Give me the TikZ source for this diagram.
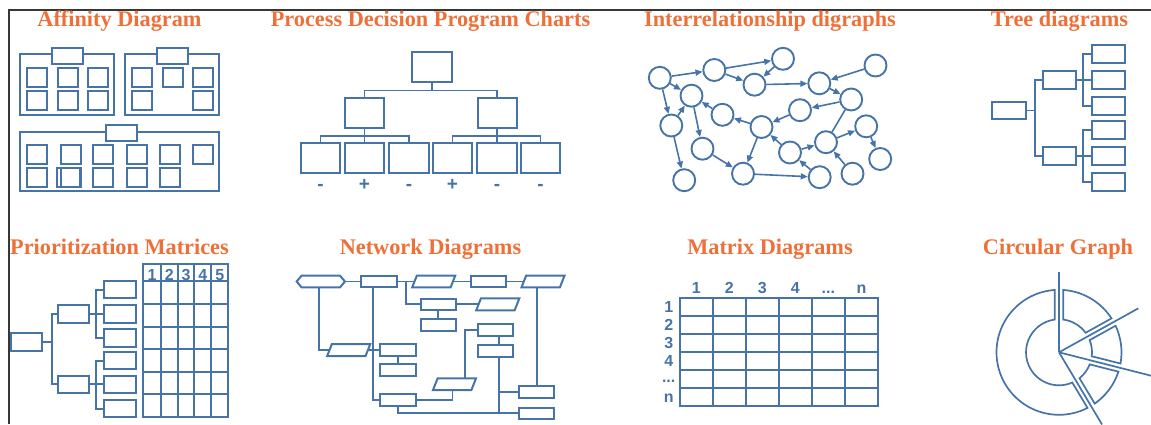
\documentclass[tikz,border=0pt]{standalone}
\usepackage{fontspec}
\setmainfont{Liberation Serif}
\newfontfamily\lsans{Liberation Sans}
\usetikzlibrary{arrows.meta,shapes.geometric,shapes.symbols,calc}
\definecolor{bl}{RGB}{70,116,168}
\definecolor{ttl}{RGB}{238,112,56}
\definecolor{frm}{RGB}{55,55,55}
\newcommand\sq[2]{\draw[ln] (#1,#2) rectangle ++(20,19);}
\newcommand\para[2]{\node[rectangle,minimum width=38pt,minimum height=11.5pt,inner sep=0pt] (#1) at (#2) {};
  \draw[ln] ([xshift=-2.35pt]#1.south west) -- ([xshift=2.35pt]#1.north west) -- ([xshift=2.35pt]#1.north east) -- ([xshift=-2.35pt]#1.south east) -- cycle;}
\begin{document}
\begin{tikzpicture}[x=1pt,y=-1pt,
  ln/.style={draw=bl,line width=2pt},
  thn/.style={draw=bl,line width=1.7pt},
  bx/.style={rectangle,draw=bl,line width=2pt,inner sep=0pt,fill=white},
  nbox/.style={bx,minimum width=35.5pt,minimum height=11.5pt},
  circ/.style={circle,draw=bl,line width=1.9pt,minimum size=22pt,inner sep=0pt},
  arr/.style={draw=bl,line width=1.6pt,-{Triangle[length=7pt,width=6pt]}},
  title/.style={text=ttl,font=\fontsize{22.3}{26}\selectfont\bfseries,anchor=base,inner sep=0pt},
  lab/.style={text=bl,font=\lsans\fontsize{16}{18}\selectfont\bfseries,anchor=base,inner sep=0pt},
  pm/.style={text=bl,font=\lsans\fontsize{19}{20}\selectfont\bfseries,anchor=base,inner sep=0pt},
]
\useasboundingbox (0,0) rectangle (1151,424);
\draw[frm,line width=1.5pt] (9,424) -- (9,10) -- (1151,10);

% titles
\node[title] (t1) at (119.5,26.5) {Affinity Diagram};
\node[title] (t2) at (430.5,26.5) {Process Decision Program Charts};
\node[title] (t3) at (770,26.5) {Interrelationship digraphs};
\node[title] (t4) at (1059.5,26.5) {Tree diagrams};
\node[title] (t5) at (119.5,254) {Prioritization Matrices};
\node[title] (t6) at (430.5,254) {Network Diagrams};
\node[title] (t7) at (770,254) {Matrix Diagrams};
\node[title] (t8) at (1058,254) {Circular Graph};

% ---------- Affinity diagram
\draw[ln] (20,54) rectangle (114,115);
\node[bx,minimum width=31pt,minimum height=16pt] (ah1) at (67.5,56) {};
\sq{27}{68}\sq{57.5}{68}\sq{88}{68}
\sq{27}{91}\sq{57.5}{91}\sq{88}{91}
\draw[ln] (125,54) rectangle (219,115);
\node[bx,minimum width=31pt,minimum height=16pt] (ah2) at (172.5,56) {};
\sq{132}{68}\sq{163}{68}\sq{193}{68}
\sq{132}{91}\sq{193}{91}
\draw[ln] (20,132) rectangle (219,191);
\node[bx,minimum width=31pt,minimum height=16pt] (ah3) at (121.5,133) {};
\sq{27}{145}\sq{61}{145}\sq{93}{145}\sq{127}{145}\sq{160}{145}\sq{193}{145}
\draw[ln] (57,168) rectangle (80,187);
\sq{27}{168}\sq{61}{168}\sq{93}{168}\sq{127}{168}\sq{160}{168}

% ---------- PDPC
\node[bx,minimum width=40pt,minimum height=30pt] (pt) at (432,67) {};
\node[bx,minimum width=39pt,minimum height=30pt] (pmL) at (364.5,113) {};
\node[bx,minimum width=39pt,minimum height=30pt] (pmR) at (497,113) {};
\foreach \i/\x in {1/320.5,2/364.5,3/409,4/452.5,5/497,6/540.5}{
  \node[bx,minimum width=39.5pt,minimum height=30pt] (pb\i) at (\x,158) {};
}
\draw[thn] (pt.south) -- ++(0,7.5) coordinate (pj) -| (pmL.north);
\draw[thn] (pj) -| (pmR.north);
\draw[thn] (pmL.south) -- ++(0,6.7) coordinate (pjL) -| (pb1.north);
\draw[thn] (pjL) -| (pb3.north);
\draw[thn] (pjL) -- (pb2.north);
\draw[thn] (pmR.south) -- ++(0,6.7) coordinate (pjR) -| (pb4.north);
\draw[thn] (pjR) -| (pb6.north);
\draw[thn] (pjR) -- (pb5.north);
\node[pm] (s1) at (320.5,190) {-};
\node[pm] (s2) at (364.5,190) {+};
\node[pm] (s3) at (409,190) {-};
\node[pm] (s4) at (452.5,190) {+};
\node[pm] (s5) at (497,190) {-};
\node[pm] (s6) at (540.5,190) {-};

% ---------- Interrelationship digraph
\foreach \i/\x/\y in {1/659.8/77.8,2/714.3/70,3/783/58.8,4/754.5/84.7,5/819.3/83.3,6/875.5/65.5,
  7/691.5/95.7,8/851.2/99.5,9/800/110.2,10/722.5/114.8,11/671.3/125.5,12/761.5/127,
  13/866.2/126.3,14/826/142.2,15/702.5/148.7,16/790/152.5,17/880.2/159,18/743/173.7,
  19/819.7/177.2,20/852.5/173.7,21/684.2/180.2}{
  \node[circ] (c\i) at (\x,\y) {};
}
\foreach \a/\b in {1/2,1/7,1/11,11/7,11/21,7/15,10/7,12/10,12/18,15/18,2/3,2/4,3/4,4/5,6/5,
  5/8,8/9,9/12,16/12,16/14,14/13,13/17,19/16,20/14,18/19}{
  \draw[arr] (c\a) -- (c\b);
}
\draw[draw=bl,line width=1.6pt] (c8) -- (c14);

% ---------- Tree diagrams
\node[bx,minimum width=34pt,minimum height=17.6pt] (tr) at (1008.7,110.5) {};
\node[bx,minimum width=33pt,minimum height=18pt] (tm1) at (1059.2,80.3) {};
\node[bx,minimum width=33pt,minimum height=18pt] (tm2) at (1059.2,155.7) {};
\foreach \i/\y in {1/54.3,2/80.3,3/106.3,4/130,5/155.7,6/181.7}{
  \node[bx,minimum width=33.3pt,minimum height=18pt] (tl\i) at (1108.3,\y) {};
}
\draw[thn] (tr.east) -- ++(8.6,0) coordinate (tj) |- (tm1.west);
\draw[thn] (tj) |- (tm2.west);
\draw[thn] (tm1.east) -- ++(6,0) coordinate (tk1) |- (tl1.west);
\draw[thn] (tk1) |- (tl3.west);
\draw[thn] (tk1) -- (tl2.west);
\draw[thn] (tm2.east) -- ++(6,0) coordinate (tk2) |- (tl4.west);
\draw[thn] (tk2) |- (tl6.west);
\draw[thn] (tk2) -- (tl5.west);

% ---------- Prioritization matrices
\node[bx,minimum width=31.3pt,minimum height=17.4pt] (pr) at (26.7,342) {};
\node[bx,minimum width=31pt,minimum height=17.4pt] (pm1) at (73.8,314) {};
\node[bx,minimum width=31pt,minimum height=17.4pt] (pm2) at (73.8,384.3) {};
\foreach \i/\y in {1/289.7,2/314,3/338,4/360.7,5/384.3,6/408.7}{
  \node[bx,minimum width=31.4pt,minimum height=17.4pt] (pl\i) at (120,\y) {};
}
\draw[thn] (pr.east) -- ++(8.4,0) coordinate (pj0) |- (pm1.west);
\draw[thn] (pj0) |- (pm2.west);
\draw[thn] (pm1.east) -- ++(5.7,0) coordinate (pk1) |- (pl1.west);
\draw[thn] (pk1) |- (pl3.west);
\draw[thn] (pk1) -- (pl2.west);
\draw[thn] (pm2.east) -- ++(5.7,0) coordinate (pk2) |- (pl4.west);
\draw[thn] (pk2) |- (pl6.west);
\draw[thn] (pk2) -- (pl5.west);
\draw[ln] (143.3,264.3) rectangle (228.3,417.3);
\foreach \x in {160.7,177.7,194.3,211}{\draw[ln] (\x,264.3) -- (\x,417.3);}
\foreach \y in {281,304.3,326.7,349.3,371.7,394}{\draw[ln] (143.3,\y) -- (228.3,\y);}
\foreach \i/\x in {1/152,2/169.2,3/186,4/202.7,5/219.7}{
  \node[lab] (ph\i) at (\x,280) {\i};
}

% ---------- Network diagrams
\node[signal,signal to=west and east,signal pointer angle=100,draw=bl,line width=2pt,inner sep=0pt,minimum width=48.3pt,minimum height=11.6pt] (nh) at (320.8,281.5) {};
\node[nbox] (nA) at (378.8,281.5) {};
\para{nB}{433.7,281.5}
\node[nbox] (nC) at (488.3,281.5) {};
\para{nD}{543,281.5}
\node[nbox] (nE) at (438.3,304.3) {};
\para{nF}{497.8,304.3}
\node[nbox] (nG) at (438.3,324.8) {};
\para{nH}{348.7,350.1}
\node[nbox] (nI) at (398,350) {};
\node[nbox] (nJ) at (398,369.8) {};
\node[nbox] (nK) at (398,399.8) {};
\para{nL}{454.5,384.2}
\node[nbox] (nM) at (495.7,329.8) {};
\node[nbox] (nN) at (495.7,351.2) {};
\node[nbox] (nO) at (536.7,392.2) {};
\node[nbox] (nP) at (536.7,413.3) {};
\draw[thn] (nh.east) -- (nA.west);
\draw[thn] (nA.east) -- (nB.west);
\draw[thn] (nB.east) -- (nC.west);
\draw[thn] (nC.east) -- (nD.west);
\draw[thn] ($(nA.east)!.5!(nB.west)$) |- (nE.west);
\draw[thn] (nE.east) -- (nF.west);
\draw[thn] (nE.south) -- (nG.north);
\draw[thn] ([xshift=-1.8pt]nh.south) |- (nH.west);
\draw[thn] (nH.east) -- (nI.west);
\draw[thn] (nI.south) -- (nJ.north);
\draw[thn] ([xshift=-5.5pt]nA.south) |- (nK.west);
\draw[thn] (nK.east) -| ([xshift=-2pt]nL.south);
\draw[thn] ([xshift=10.5pt]nL.north) |- (nM.west);
\draw[thn] ([xshift=3.3pt]nM.south) -- ([xshift=3.3pt]nN.north);
\draw[thn] ([xshift=3.3pt]nN.south) -- ([xshift=3.3pt]nN.south |- nP.west);
\draw[thn] ([xshift=3.3pt]nN.south |- nO.west) -- (nO.west);
\draw[thn] (nK.south) |- (nP.west);
\draw[thn] (nO.north) -- (nO.north |- nD.south);

% ---------- Matrix diagrams
\draw[ln] (680,297.7) rectangle (877.7,405.7);
\foreach \x in {712.7,745.7,778.7,811.7,845}{\draw[ln] (\x,297.7) -- (\x,405.7);}
\foreach \y in {315.7,334,352.3,370.3,388.3}{\draw[ln] (680,\y) -- (877.7,\y);}
\node[lab] (mc1) at (696.3,293.7) {1};
\node[lab] (mc2) at (729.2,293.7) {2};
\node[lab] (mc3) at (762.2,293.7) {3};
\node[lab] (mc4) at (795.2,293.7) {4};
\node[lab] (mc5) at (828.4,293.7) {...};
\node[lab] (mc6) at (861.4,293.7) {n};
\node[lab] (mr1) at (668.7,312.7) {1};
\node[lab] (mr2) at (668.7,330.7) {2};
\node[lab] (mr3) at (668.7,348.7) {3};
\node[lab] (mr4) at (668.7,366) {4};
\node[lab] (mr5) at (668.7,382.5) {...};
\node[lab] (mr6) at (668.7,402) {n};

% ---------- Circular graph
\begin{scope}[shift={(1059,352.3)},y=1pt]
  \coordinate (cc) at (0,0);
  \draw[thn] (93.85:62.5) arc[start angle=93.85,end angle=297.15,radius=62.5]
     -- (293.69:33) arc[start angle=293.69,end angle=97.31,radius=33] -- cycle;
  \draw[thn] (32.85:62.5) arc[start angle=32.85,end angle=86.15,radius=62.5]
     -- (82.69:33) arc[start angle=82.69,end angle=36.31,radius=33] -- cycle;
  \draw[thn] (-10.35:62.5) arc[start angle=-10.35,end angle=25.15,radius=62.5]
     -- (21.69:33) arc[start angle=21.69,end angle=-6.89,radius=33] -- cycle;
  \draw[thn] (-55.15:62.5) arc[start angle=-55.15,end angle=-18.05,radius=62.5]
     -- (-21.51:33) arc[start angle=-21.51,end angle=-51.69,radius=33] -- cycle;
  \draw[thn] (cc) -- (90:80);
  \draw[thn] (cc) -- (29:90.7);
  \draw[thn] (cc) -- (-14.27:96);
  \draw[thn] (cc) -- (-59.2:84);
\end{scope}
\end{tikzpicture}
\end{document}
